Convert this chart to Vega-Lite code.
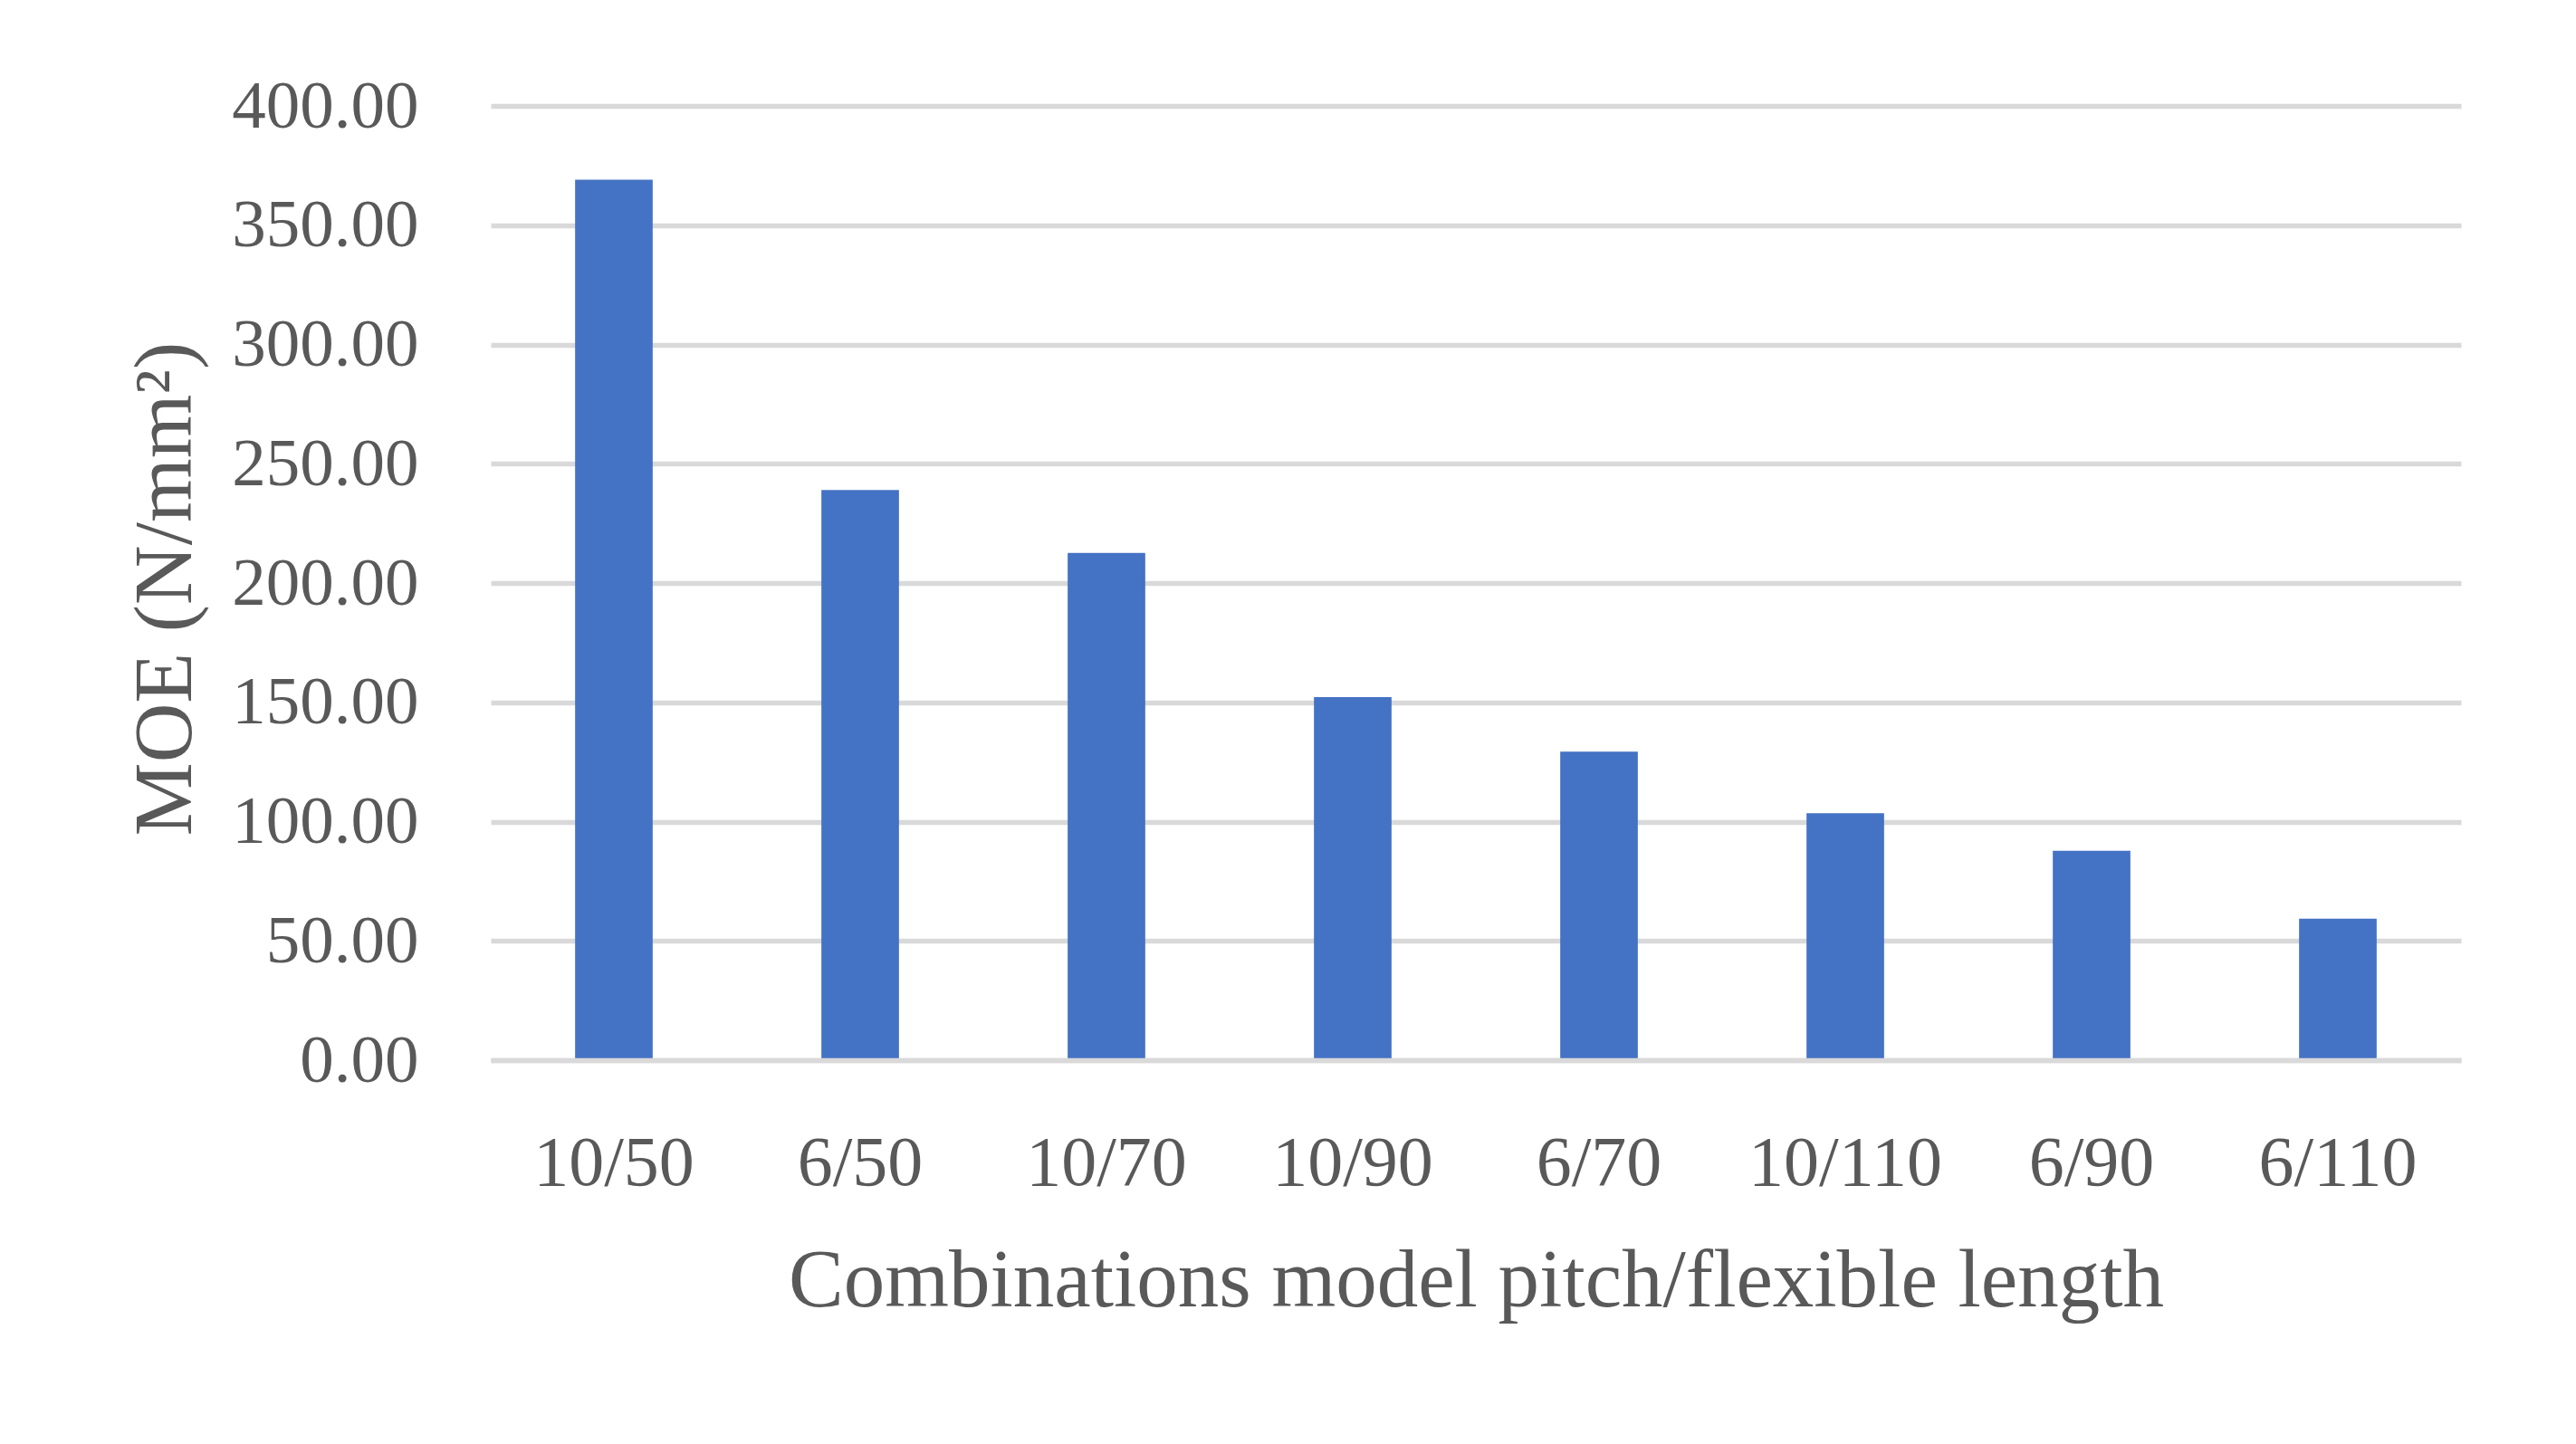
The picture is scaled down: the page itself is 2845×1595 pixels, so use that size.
{
  "$schema": "https://vega.github.io/schema/vega-lite/v6.json",
  "width": 2176,
  "height": 1054,
  "autosize": {"type": "none"},
  "padding": {"left": 542, "top": 117, "right": 127, "bottom": 424},
  "background": "white",
  "config": {"view": {"stroke": null}, "font": "Liberation Serif"},
  "data": {
    "values": [
      {"combo": "10/50", "moe": 369.1},
      {"combo": "6/50", "moe": 239.0},
      {"combo": "10/70", "moe": 212.6},
      {"combo": "10/90", "moe": 152.2},
      {"combo": "6/70", "moe": 129.3},
      {"combo": "10/110", "moe": 103.5},
      {"combo": "6/90", "moe": 87.8},
      {"combo": "6/110", "moe": 59.3}
    ]
  },
  "mark": {"type": "bar", "color": "#4472C4"},
  "encoding": {
    "x": {
      "field": "combo",
      "type": "nominal",
      "sort": null,
      "scale": {"paddingInner": 0.685, "paddingOuter": 0.3425},
      "axis": {
        "title": "Combinations model pitch/flexible length",
        "labelAngle": 0,
        "labelLimit": 0,
        "labelFont": "Liberation Serif",
        "labelFontSize": 78,
        "labelColor": "#595959",
        "labelPadding": 75,
        "ticks": false,
        "domain": true,
        "domainColor": "#d9d9d9",
        "domainWidth": 5.5,
        "zindex": 1,
        "titleFont": "Liberation Serif",
        "titleFontSize": 91,
        "titleFontWeight": "normal",
        "titleColor": "#595959",
        "titlePadding": 46
      }
    },
    "y": {
      "field": "moe",
      "type": "quantitative",
      "scale": {"domain": [0, 400], "nice": false},
      "axis": {
        "title": "MOE (N/mm²)",
        "values": [0, 50, 100, 150, 200, 250, 300, 350, 400],
        "format": ".2f",
        "grid": true,
        "gridColor": "#d9d9d9",
        "gridWidth": 5.5,
        "domain": false,
        "ticks": false,
        "labelLimit": 0,
        "labelFont": "Liberation Serif",
        "labelFontSize": 75,
        "labelColor": "#595959",
        "labelPadding": 80,
        "titleFont": "Liberation Serif",
        "titleFontSize": 91,
        "titleFontWeight": "normal",
        "titleColor": "#595959",
        "titleAngle": 270,
        "titleAlign": "center",
        "titleBaseline": "alphabetic",
        "titleX": -332,
        "titleY": 533
      }
    }
  }
}
